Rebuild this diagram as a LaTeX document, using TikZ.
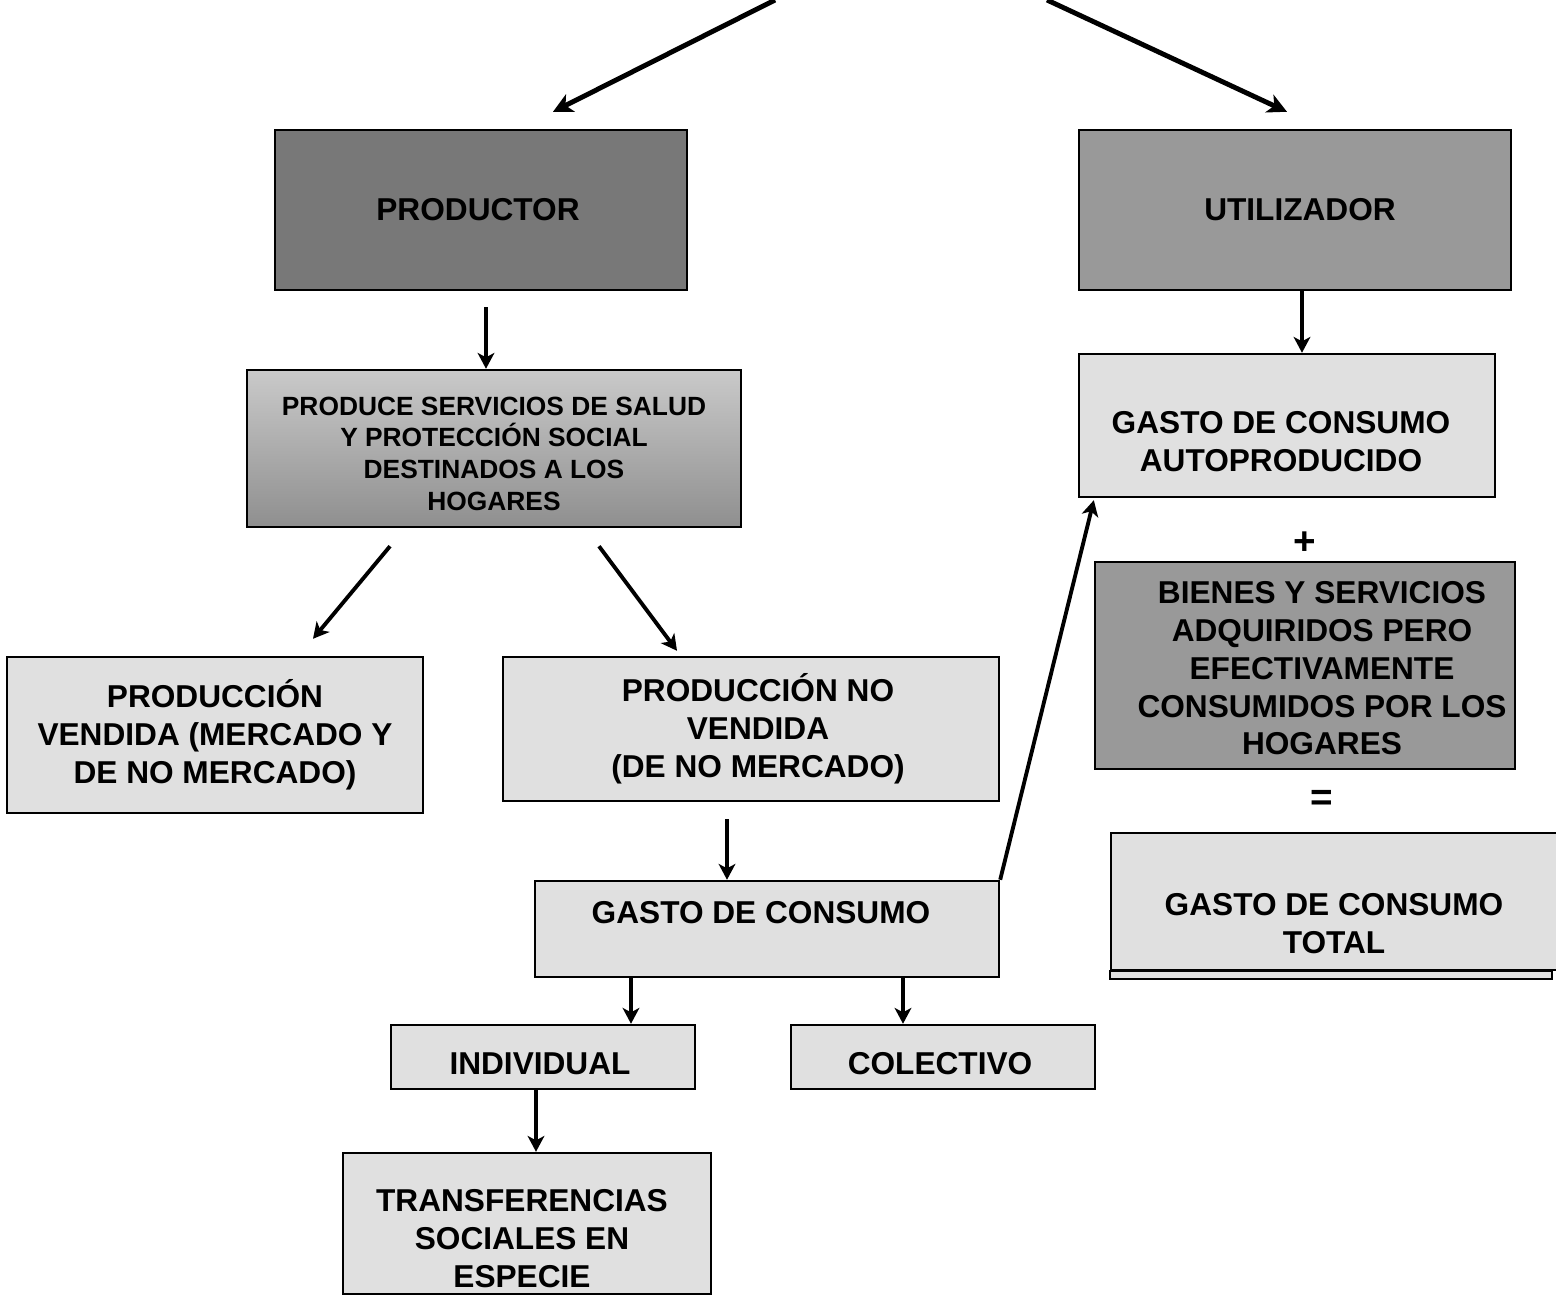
\documentclass[tikz,border=0pt]{standalone}
\usepackage{fontspec}
\setmainfont{Liberation Sans}
\usetikzlibrary{arrows.meta}
\definecolor{boxlite}{gray}{0.88}
\definecolor{boxmid}{gray}{0.60}
\definecolor{boxdark}{gray}{0.47}

\begin{document}
\begin{tikzpicture}[x=0.02cm, y=-0.02cm,
  box/.style={draw, line width=1.4pt, inner sep=0pt, align=center,
    font=\fontsize{18}{21.5}\selectfont\bfseries},
  lite/.style={box, fill=boxlite},
  lbl/.style={align=center, inner sep=0pt, font=\fontsize{18}{21.5}\selectfont\bfseries},
  arr/.style={-{Stealth[length=9pt,width=9.5pt,inset=2.5pt]}, line width=2.2pt},
  bigarr/.style={-{Stealth[length=11pt,width=11pt,inset=3pt]}, line width=2.8pt}]

\useasboundingbox (0,0) rectangle (1556,1297);

% top level
\node[box, fill=boxdark, minimum width=8.24cm, minimum height=3.2cm] (prod) at (481,210) {};
\node[lbl] (prodtx) at ([xshift=-0.06cm]prod.center) {PRODUCTOR};
\node[box, fill=boxmid, minimum width=8.64cm, minimum height=3.2cm] (util) at (1295,210) {};
\node[lbl] (utiltx) at ([xshift=0.1cm]util.center) {UTILIZADOR};
\coordinate (topL) at (775,0);
\coordinate (topR) at (1047,0);

% producer side
\node[box, top color=gray!42, bottom color={rgb,255:red,143;green,143;blue,143},
  minimum width=9.88cm, minimum height=3.14cm] (serv) at (494,448.5) {};
\node[lbl, font=\fontsize{15}{18}\selectfont\bfseries] (servtx) at ([yshift=-0.1cm]serv.center)
  {PRODUCE SERVICIOS DE SALUD\\Y PROTECCIÓN SOCIAL\\DESTINADOS A LOS\\HOGARES};
\node[lite, minimum width=8.32cm, minimum height=3.12cm] (vend) at (215,735)
  {PRODUCCIÓN\\VENDIDA (MERCADO Y\\DE NO MERCADO)};
\node[lite, minimum width=9.92cm, minimum height=2.88cm] (novend) at (751,729) {};
\node[lbl] (novendtx) at ([xshift=0.14cm]novend.center) {PRODUCCIÓN NO\\VENDIDA\\(DE NO MERCADO)};
\node[lite, minimum width=9.28cm, minimum height=1.92cm] (gasto) at (767,929) {};
\node[lbl] (gastotx) at ([xshift=-0.12cm,yshift=0.32cm]gasto.center) {GASTO DE CONSUMO};
\node[lite, minimum width=6.08cm, minimum height=1.28cm] (indiv) at (543,1057) {};
\node[lbl] (indivtx) at ([xshift=-0.06cm,yshift=-0.14cm]indiv.center) {INDIVIDUAL};
\node[lite, minimum width=6.08cm, minimum height=1.28cm] (colect) at (943,1057) {};
\node[lbl] (colecttx) at ([xshift=-0.06cm,yshift=-0.14cm]colect.center) {COLECTIVO};
\node[lite, minimum width=7.36cm, minimum height=2.82cm] (transf) at (527,1223.5) {};
\node[lbl] (transftx) at ([xshift=-0.1cm,yshift=-0.3cm]transf.center) {TRANSFERENCIAS\\SOCIALES EN\\ESPECIE};

% user side
\node[lite, minimum width=8.32cm, minimum height=2.86cm] (auto) at (1287,425.5) {};
\node[lbl] (autotx) at ([xshift=-0.12cm,yshift=-0.32cm]auto.center) {GASTO DE CONSUMO\\AUTOPRODUCIDO};
\node[font=\fontsize{22}{22}\selectfont\bfseries] (plus) at (1305,543) {+};
\node[box, fill=boxmid, minimum width=8.4cm, minimum height=4.14cm] (bien) at (1305,665.5) {};
\node[lbl] (bientx) at ([xshift=0.34cm,yshift=-0.06cm]bien.center)
  {BIENES Y SERVICIOS\\ADQUIRIDOS PERO\\EFECTIVAMENTE\\CONSUMIDOS POR LOS\\HOGARES};
\node[font=\fontsize{22}{22}\selectfont\bfseries] (equal) at (1322,800) {=};
\node[lite, minimum width=8.98cm, minimum height=2.74cm] (total) at (1335.5,901.5) {};
\draw[line width=1.4pt, fill=boxlite] (total.south west) rectangle ++(442,8);
\node[lbl] (totaltx) at ([xshift=-0.03cm,yshift=-0.44cm]total.center) {GASTO DE CONSUMO\\TOTAL};

% connectors
\draw[bigarr] (topL) -- ([xshift=1.44cm,yshift=0.34cm]prod.north);
\draw[bigarr] (topR) -- ([xshift=-0.16cm,yshift=0.34cm]util.north);
\draw[arr] ([xshift=0.1cm,yshift=-0.32cm]prod.south) -- ([xshift=-0.16cm]serv.north);
\draw[arr] ([xshift=0.14cm]util.south) -- ([xshift=0.3cm]auto.north);
\draw[arr] ([xshift=-2.08cm,yshift=-0.36cm]serv.south) -- ([xshift=1.96cm,yshift=0.34cm]vend.north);
\draw[arr] ([xshift=2.1cm,yshift=-0.36cm]serv.south) -- ([xshift=-1.48cm,yshift=0.1cm]novend.north);
\draw[arr] ([xshift=-0.48cm,yshift=-0.34cm]novend.south) -- ([xshift=-0.8cm]gasto.north);
\draw[arr] (gasto.north east) -- ([xshift=0.32cm,yshift=-0.04cm]auto.south west);
\draw[arr] ([xshift=-2.72cm]gasto.south) -- ([xshift=1.76cm]indiv.north);
\draw[arr] ([xshift=2.72cm]gasto.south) -- ([xshift=-0.8cm]colect.north);
\draw[arr] ([xshift=-0.14cm]indiv.south) -- ([xshift=0.18cm]transf.north);

\end{tikzpicture}
\end{document}
